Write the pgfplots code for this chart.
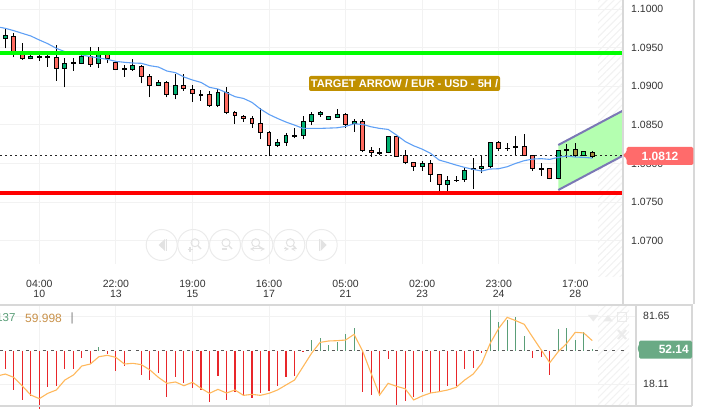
\documentclass[border=0pt]{standalone}
\usepackage{fontspec}
\setmainfont{Liberation Sans}
\usepackage{pgfplots}
\usepackage{pgfplotstable}
\pgfplotsset{compat=1.18}
\usetikzlibrary{patterns.meta}
\definecolor{cndlr}{HTML}{FF6B60}
\definecolor{cndlg}{HTML}{00B070}
\definecolor{cndlk}{HTML}{000000}
\definecolor{cndlo}{HTML}{A88F3C}
\definecolor{cndll}{HTML}{22DD66}
\definecolor{gridc}{HTML}{F2F2F2}
\definecolor{borderc}{HTML}{D8D8D8}
\definecolor{hatchc}{HTML}{F2F2F2}
\definecolor{btn}{HTML}{EBEBEB}
\definecolor{glyph}{HTML}{E2E2E2}
\definecolor{chanfill}{HTML}{B4FFB0}
\definecolor{chanline}{HTML}{7B78B5}
\definecolor{ema}{HTML}{5FA0F5}
\definecolor{rsi}{HTML}{FFB85C}
\definecolor{histr}{HTML}{E8262A}
\definecolor{histg}{HTML}{5A9E78}
\definecolor{txt}{HTML}{333333}
\definecolor{HTMLgold}{HTML}{C09000}
\definecolor{HTMLprice}{HTML}{FF6B6B}
\definecolor{HTMLind}{HTML}{6AAA85}
\definecolor{HTMLlegend}{HTML}{C8914A}
\pgfplotstableread{
x low bot top high c
0 1.09491 1.09616 1.09651 1.09737 g
1 1.09374 1.09448 1.09646 1.09685 r
2 1.09340 1.09357 1.09448 1.09556 r
3 1.09348 1.09357 1.09387 1.09405 g
4 1.09327 1.09370 1.09387 1.09448 k
5 1.09253 1.09374 1.09387 1.09426 k
6 1.09072 1.09232 1.09374 1.09530 r
7 1.08986 1.09232 1.09297 1.09361 g
8 1.09202 1.09297 1.09310 1.09361 k
9 1.09288 1.09297 1.09383 1.09405 g
10 1.09253 1.09284 1.09383 1.09512 r
11 1.09240 1.09297 1.09426 1.09512 g
12 1.09297 1.09357 1.09426 1.09448 r
13 1.09210 1.09219 1.09310 1.09318 r
14 1.09124 1.09219 1.09232 1.09275 k
15 1.09202 1.09219 1.09271 1.09348 g
16 1.09037 1.09128 1.09258 1.09275 r
17 1.08856 1.09012 1.09128 1.09154 r
18 1.09003 1.09012 1.09050 1.09081 g
19 1.08856 1.08895 1.09050 1.09068 r
20 1.08830 1.08895 1.09012 1.09158 g
21 1.08942 1.08973 1.09012 1.09154 r
22 1.08800 1.08908 1.08960 1.09012 r
23 1.08813 1.08886 1.08895 1.08951 k
24 1.08735 1.08753 1.08895 1.08942 r
25 1.08727 1.08753 1.08921 1.08960 g
26 1.08636 1.08662 1.08921 1.08994 r
27 1.08511 1.08623 1.08662 1.08683 r
28 1.08540 1.08579 1.08614 1.08627 r
29 1.08462 1.08519 1.08583 1.08614 r
30 1.08311 1.08402 1.08519 1.08713 r
31 1.08095 1.08229 1.08402 1.08424 r
32 1.08208 1.08229 1.08272 1.08316 g
33 1.08229 1.08272 1.08363 1.08398 g
34 1.08324 1.08354 1.08367 1.08462 k
35 1.08311 1.08363 1.08544 1.08614 g
36 1.08497 1.08544 1.08635 1.08670 g
37 1.08605 1.08635 1.08661 1.08674 g
38 1.08562 1.08570 1.08609 1.08609 g
39 1.08583 1.08596 1.08635 1.08700 g
40 1.08462 1.08506 1.08635 1.08657 r
41 1.08411 1.08519 1.08544 1.08570 g
42 1.08143 1.08169 1.08544 1.08570 r
43 1.08087 1.08143 1.08169 1.08208 r
44 1.08108 1.08130 1.08143 1.08195 k
45 1.08130 1.08143 1.08350 1.08354 g
46 1.08091 1.08091 1.08350 1.08350 r
47 1.07987 1.08013 1.08104 1.08173 r
48 1.07905 1.07962 1.08013 1.08013 r
49 1.07905 1.07962 1.08000 1.08035 g
50 1.07763 1.07858 1.08000 1.08044 r
51 1.07590 1.07728 1.07858 1.07858 r
52 1.07642 1.07728 1.07780 1.07841 g
53 1.07763 1.07776 1.07785 1.07841 k
54 1.07763 1.07793 1.07910 1.07936 g
55 1.07673 1.07923 1.07932 1.08066 k
56 1.07871 1.07932 1.07962 1.08100 g
57 1.07936 1.07958 1.08273 1.08273 g
58 1.08165 1.08191 1.08273 1.08290 r
59 1.08165 1.08191 1.08200 1.08260 k
60 1.08109 1.08204 1.08217 1.08359 k
61 1.08096 1.08100 1.08221 1.08377 r
62 1.07906 1.07936 1.08105 1.08109 r
63 1.07841 1.07923 1.07936 1.08010 k
64 1.07794 1.07802 1.07936 1.07936 r
65 1.07794 1.07802 1.08174 1.08174 g
66 1.08066 1.08169 1.08182 1.08247 k
67 1.08087 1.08100 1.08182 1.08260 o
68 1.08100 1.08105 1.08156 1.08161 l
69 1.08074 1.08096 1.08144 1.08165 o
}\candles
\pgfplotstableread{
x y
-0.62 1.09763
0 1.09750
1 1.09720
2 1.09685
3 1.09651
4 1.09599
5 1.09551
6 1.09491
7 1.09448
8 1.09426
9 1.09405
10 1.09383
11 1.09366
12 1.09348
13 1.09322
14 1.09310
15 1.09301
16 1.09297
17 1.09266
18 1.09249
19 1.09197
20 1.09176
21 1.09120
22 1.09081
23 1.09050
24 1.08986
25 1.08964
26 1.08917
27 1.08865
28 1.08842
29 1.08791
30 1.08704
31 1.08635
32 1.08583
33 1.08536
34 1.08497
35 1.08454
36 1.08454
37 1.08454
38 1.08458
39 1.08462
40 1.08480
41 1.08514
42 1.08506
43 1.08475
44 1.08454
45 1.08441
46 1.08367
47 1.08285
48 1.08229
49 1.08186
50 1.08130
51 1.08044
52 1.08013
53 1.07979
54 1.07949
55 1.07923
56 1.07902
57 1.07928
58 1.07932
59 1.07958
60 1.08001
61 1.08036
62 1.08057
63 1.08062
64 1.08053
65 1.08079
66 1.08096
67 1.08083
68 1.08079
69 1.08070
}\emaline
\pgfplotstableread{
x y
-0.62 26.2
0 27.4
1 24.3
2 16.2
3 7.8
4 4.4
5 9.4
6 12.5
7 21.8
8 26.5
9 34.9
10 36.8
11 43.6
12 44.9
13 43.0
14 36.8
15 37.4
16 36.2
17 31.2
18 24.3
19 18.7
20 20.0
21 16.5
22 19.7
23 14.1
24 9.4
25 13.1
26 9.7
27 12.5
28 7.5
29 8.4
30 7.5
31 9.4
32 12.5
33 17.2
34 21.8
35 34.3
36 46.8
37 57.0
38 58.3
39 58.6
40 59.2
41 64.5
42 48.9
43 28.1
44 7.8
45 18.7
46 15.9
47 13.7
48 3.2
49 6.9
50 9.7
51 10.9
52 12.5
53 15.0
54 21.8
55 27.4
56 37.4
57 56.1
58 70.1
59 80.4
60 77.3
61 73.9
62 61.7
63 49.9
64 38.0
65 48.3
66 56.1
67 66.4
68 65.8
69 58.6
}\rsiline
\pgfplotstableread{
x y
0 -17.4
1 -36.8
2 -46.4
3 -42.1
4 -54.2
5 -33.6
6 -32.7
7 -17.4
8 -17.4
9 -7.2
10 -12.5
12 -3.4
13 -19.3
14 -14.3
16 -23.1
17 -27.7
18 -21.2
19 -43.0
20 -24.3
21 -30.5
22 -35.2
23 -36.8
24 -48.3
25 -24.0
26 -46.4
27 -38.3
28 -41.4
29 -43.9
30 -39.9
31 -37.4
32 -33.3
33 -24.9
34 -24.0
35 -1.6
42 -38.9
43 -41.7
44 -42.7
45 -8.1
46 -50.5
47 -47.3
48 -43.0
49 -38.3
50 -39.9
51 -37.4
52 -32.7
53 -32.7
54 -17.4
55 -15.9
56 -2.5
62 -7.2
63 -6.2
64 -23.1
}\histred
\pgfplotstableread{
x y
11 3.7
36 9.7
37 11.5
38 5.6
39 8.4
40 15.3
41 20.9
57 38.0
58 27.1
59 28.7
60 31.2
61 13.7
65 20.2
66 20.9
67 10.0
68 17.1
69 1.6
}\histgreen
\begin{document}
\begin{tikzpicture}
\useasboundingbox (0pt,0pt) rectangle (714pt,409pt);
% hatched right-hand zones (background)
\begin{scope}[x=1pt,y=1pt]
\fill[pattern={Lines[angle=45,distance=5pt,line width=1.1pt]},pattern color=hatchc] (598,132) rectangle (622,409);
\fill[pattern={Lines[angle=45,distance=5pt,line width=1.1pt]},pattern color=hatchc] (598,3) rectangle (629,103);
\end{scope}
% ---------- price pane
\begin{axis}[
  at={(0pt,145pt)}, anchor=south west,
  scale only axis, width=623pt, height=264pt,
  xmin=-0.623, xmax=72.61, ymin=1.06698, ymax=1.10117,
  axis line style={draw=none}, major tick length=0pt,
  grid=major, grid style={gridc, line width=0.9pt},
  xtick={4,13,22,31,40,49,58,67},
  xticklabels={{04:00\\10},{22:00\\13},{19:00\\15},{16:00\\17},{05:00\\21},{02:00\\23},{23:00\\24},{17:00\\28}},
  xticklabel style={align=center, font=\fontsize{10.5}{10}\selectfont, text=txt, inner sep=0pt, yshift=-16pt},
  ytick={1.07,1.075,1.08,1.085,1.09,1.095,1.1},
  yticklabels={1.0700,1.0750,1.0800,1.0850,1.0900,1.0950,1.1000},
  yticklabel pos=right,
  yticklabel style={font=\fontsize{10.5}{12}\selectfont, text=txt, inner sep=0pt, xshift=8pt},
]
\addplot[fill=chanfill, draw=none, forget plot] coordinates {(65,1.08239)(72.73,1.08692)(72.73,1.08109)(65,1.07656)} --cycle;
\addplot[chanline, line width=2pt, forget plot] coordinates {(65,1.08239)(72.73,1.08692)};
\addplot[chanline, line width=2pt, forget plot] coordinates {(65,1.07656)(72.73,1.08109)};
\addplot[black!85, line width=0.8pt, dash pattern=on 2pt off 3pt, forget plot] coordinates {(-0.623,1.0810)(72.61,1.0810)};
\pgfplotsinvokeforeach{0,...,69}{
  \pgfplotstablegetelem{#1}{x}\of\candles \let\cx\pgfplotsretval
  \pgfplotstablegetelem{#1}{low}\of\candles \let\cl\pgfplotsretval
  \pgfplotstablegetelem{#1}{bot}\of\candles \let\cb\pgfplotsretval
  \pgfplotstablegetelem{#1}{top}\of\candles \let\ct\pgfplotsretval
  \pgfplotstablegetelem{#1}{high}\of\candles \let\ch\pgfplotsretval
  \pgfplotstablegetelem{#1}{c}\of\candles \let\cc\pgfplotsretval
  \pgfmathsetmacro\xa{\cx-0.23}
  \pgfmathsetmacro\xb{\cx+0.23}
  \edef\tmp{\noexpand\addplot[black, line width=1pt, forget plot] coordinates {(\cx,\cl)(\cx,\ch)};
    \noexpand\addplot[draw=black, line width=1pt, fill=cndl\cc, forget plot] coordinates {(\xa,\cb)(\xb,\cb)(\xb,\ct)(\xa,\ct)} --cycle;}
  \tmp
}
\addplot[ema, line width=1.1pt, forget plot] table[x=x,y=y] {\emaline};
\addplot[green!100, line width=3.4pt, forget plot] coordinates {(-0.623,1.0943)(72.61,1.0943)};
\addplot[red, line width=4pt, forget plot] coordinates {(-0.623,1.07617)(72.61,1.07617)};
\end{axis}
% ---------- indicator pane: grid and scale
\begin{axis}[
  at={(0pt,3pt)}, anchor=south west,
  scale only axis, width=636pt, height=100pt,
  xmin=-0.623, xmax=74.14, ymin=-2.46, ymax=91.0,
  axis line style={draw=none}, major tick length=0pt,
  grid=major, grid style={gridc, line width=0.9pt},
  xtick={4,13,22,31,40,49,58,67}, xticklabels={},
  ytick={18.11,81.65}, yticklabels={18.11,81.65},
  yticklabel pos=right,
  yticklabel style={font=\fontsize{10.5}{12}\selectfont, text=txt, inner sep=0pt, xshift=7pt},
]
\addplot[draw=none, forget plot] coordinates {(0,50)(1,50)};
\end{axis}
% ---------- indicator pane: histogram about its zero line
\begin{axis}[
  at={(0pt,3pt)}, anchor=south west,
  scale only axis, width=636pt, height=100pt,
  xmin=-0.623, xmax=74.14, ymin=-51.71, ymax=41.75,
  hide axis, clip=false,
]
\addplot[histr, ycomb, line width=1.1pt, mark=none, forget plot] table[x=x,y=y] {\histred};
\addplot[histg, ycomb, line width=1.1pt, mark=none, forget plot] table[x=x,y=y] {\histgreen};
\addplot[gray!70!black, line width=0.9pt, dash pattern=on 3pt off 5.5pt, forget plot] coordinates {(-0.623,0)(72.9,0)};
\end{axis}
\begin{axis}[
  at={(0pt,3pt)}, anchor=south west,
  scale only axis, width=636pt, height=100pt,
  xmin=-0.623, xmax=74.14, ymin=-2.46, ymax=91.0,
  hide axis,
]
\addplot[rsi, line width=1.1pt, forget plot] table[x=x,y=y] {\rsiline};
\end{axis}
% ---------- frame, labels, buttons
\begin{scope}[x=1pt,y=1pt]
\draw[borderc, line width=2pt] (623,409) -- (623,105);
\draw[borderc, line width=1.5pt] (694,409) -- (694,105);
\draw[borderc, line width=2pt] (0,104.3) -- (693,104.3);
\draw[borderc, line width=2pt] (636,104) -- (636,3);
\draw[borderc, line width=1.5pt] (692,104) -- (692,3);
\draw[borderc, line width=2pt] (0,3) -- (692,3);
% target label
\node[fill=HTMLgold, rounded corners=2pt, text=white, font=\fontsize{11.1}{12}\bfseries\selectfont, inner sep=0pt, minimum width=191pt, minimum height=15pt] at (404.5,325.5) {TARGET ARROW / EUR - USD - 5H /};
% price label
\fill[HTMLprice, rounded corners=1.5pt] (622.5,253.7) -- (626.7,257) -- (626.7,262) -- (693.3,262) -- (693.3,244) -- (626.7,244) -- (626.7,250.4) -- cycle;
\node[text=white, font=\fontsize{12}{14}\bfseries\selectfont, inner sep=0pt] at (660,253) {1.0812};
% indicator label
\fill[HTMLind, rounded corners=1.5pt] (637,60.5) -- (639,63) -- (639,68.3) -- (692,68.3) -- (692,50.3) -- (639,50.3) -- (639,58) -- cycle;
\node[text=white, font=\fontsize{12}{14}\bfseries\selectfont, inner sep=0pt, anchor=east] at (689,60) {52.14};
% indicator legend
\node[anchor=east, inner sep=0pt, text=histg, font=\fontsize{11.5}{14}\selectfont] at (15.7,91) {137};
\node[anchor=west, inner sep=0pt, text=HTMLlegend, font=\fontsize{12}{14}\selectfont] at (25,91) {59.998};
\node[anchor=west, inner sep=0pt, text=gray, font=\fontsize{12}{14}\selectfont] at (70.5,91) {|};
% pane icons
\fill[btn] (588,94) -- (598.5,94) -- (593.3,87.5) -- cycle;
\fill[btn] (603,87.5) -- (613,87.5) -- (608,94) -- cycle;
\draw[btn, line width=1pt] (617.5,87) rectangle (626,96);
\draw[btn, line width=2.2pt] (618,79) -- (626,70) (618,70) -- (626,79);
% zoom buttons
\foreach \cxx in {161.7,193.3,225,257.3,289.3,321.7} \draw[btn, line width=1pt] (\cxx,164) circle (15.5);
\fill[glyph] (158.5,164) -- (165,170) -- (165,158) -- cycle;
\draw[glyph, line width=1pt] (166.3,170) -- (166.3,158);
\fill[glyph] (326.7,164) -- (320.7,170) -- (320.7,158) -- cycle;
\draw[glyph, line width=1pt] (319.3,170) -- (319.3,158);
\foreach \mx in {195,226,255.7,290.3} {
  \draw[glyph, line width=1pt] (\mx,166.3) circle (4);
  \draw[glyph, line width=1.4pt] (\mx+3,163.3) -- (\mx+6,160);
}
\draw[glyph, line width=1.2pt] (187.5,159.7) -- (192.5,159.7) (190,157.2) -- (190,162.2);
\draw[glyph, line width=1.2pt] (221.5,160) -- (227,160);
\draw[glyph, line width=1pt, <->, >=stealth] (250,160) -- (265,160);
\draw[glyph, line width=1pt, ->, >=stealth] (284,160) -- (289,160);
\draw[glyph, line width=1pt, ->, >=stealth] (296,160) -- (291,160);
\end{scope}
\end{tikzpicture}
\end{document}
